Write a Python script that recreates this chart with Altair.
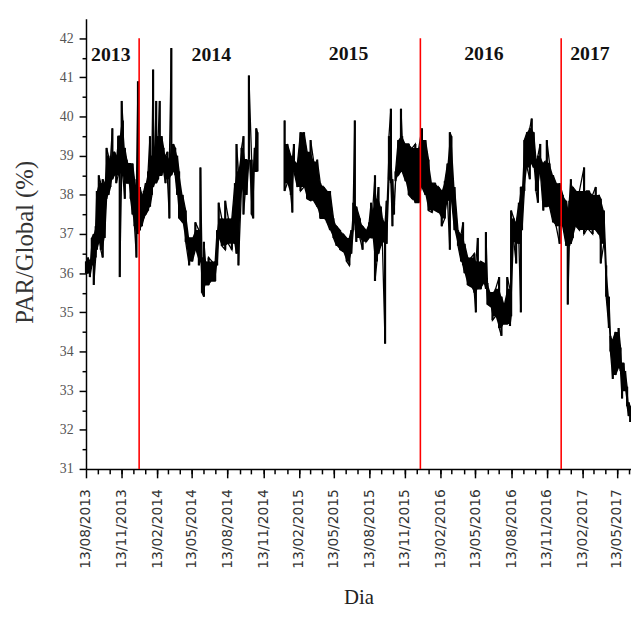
import altair as alt
import pandas as pd

start = "2013-08-13"
end = "2017-06-18"

# ---- 2013/2014 segment: day offset from start, daily max / min envelope
dia_a = [0, 5, 10, 15, 20, 25, 28, 33, 38, 43, 48, 53, 58, 63, 68, 73, 78, 83, 87, 92,
         95, 100, 105, 110, 115, 120, 125, 130, 134, 139, 144, 149, 154, 160, 165, 170, 173, 177, 181, 186,
         190, 195, 200, 205, 210, 215, 220, 225, 230, 235, 240, 249, 257, 266, 274, 282, 291, 295, 299, 304,
         308, 316, 325, 333, 338, 342, 350, 359, 367, 376, 384, 388, 393, 401, 406, 410, 414, 420, 427, 431,
         435, 439, 442]
max_a = [36.3, 36.4, 36.3, 36.9, 37.0, 37.2, 38.1, 38.5, 38.3, 38.4, 38.3, 39.2, 39.0, 38.9, 39.7, 39.1, 39.0, 39.5, 39.5, 40.4,
         39.9, 39.2, 38.9, 38.8, 38.8, 38.8, 38.4, 38.2, 40.9, 38.2, 38.0, 38.1, 38.3, 38.6, 39.5, 39.0, 41.2, 39.2, 40.4, 39.5,
         40.4, 39.5, 39.2, 39.0, 39.1, 38.9, 41.75, 39.3, 39.2, 39.0, 38.6, 38.0, 37.6, 36.9, 36.9, 37.3, 37.1, 38.7, 36.4, 36.8,
         36.3, 36.4, 36.3, 36.3, 37.1, 37.8, 37.4, 37.85, 37.4, 37.4, 38.3, 39.3, 38.6, 39.2, 39.5, 38.9, 38.9, 41.05, 38.9, 38.6,
         39.2, 39.7, 39.6]
min_a = [36.0, 36.0, 35.9, 36.2, 35.7, 36.4, 36.6, 36.8, 36.6, 36.4, 36.9, 37.9, 38.0, 38.2, 38.4, 38.5, 38.3, 38.5, 35.9, 38.6,
         38.5, 37.9, 38.3, 38.3, 37.9, 37.5, 37.2, 36.4, 37.0, 37.1, 37.2, 37.4, 37.5, 37.6, 37.7, 38.0, 38.2, 38.3, 38.3, 38.4,
         38.5, 38.5, 38.6, 38.3, 38.4, 37.4, 38.5, 38.6, 38.5, 38.0, 37.4, 37.3, 36.8, 36.2, 36.3, 36.6, 36.2, 36.3, 35.5, 35.4,
         35.7, 35.7, 35.8, 35.8, 36.2, 36.9, 36.7, 36.6, 36.75, 36.6, 36.75, 36.5, 36.2, 38.2, 37.5, 38.0, 38.0, 38.9, 37.5, 37.4,
         38.6, 38.6, 38.6]

# ---- 2015-2017 segment
dia_b = [512, 519, 528, 532, 536, 545, 553, 562, 570, 579, 587, 596, 604, 613, 621, 629, 638, 646, 655, 663,
         672, 679, 684, 689, 693, 697, 706, 713, 722, 730, 735, 739, 745, 750, 754, 760, 764, 771, 775, 781,
         786, 790, 794, 798, 805, 812, 815, 824, 832, 841, 849, 858, 866, 875, 883, 892, 900, 909, 917, 925,
         932, 938, 942, 950, 959, 967, 972, 976, 984, 993, 1001, 1005, 1010, 1018, 1027, 1031, 1035, 1043, 1048, 1056,
         1065, 1071, 1077, 1086, 1093, 1096, 1103, 1109, 1116, 1121, 1124, 1130, 1137, 1144, 1149, 1154, 1160, 1165, 1171, 1179,
         1183, 1188, 1195, 1204, 1212, 1221, 1229, 1238, 1242, 1246, 1250, 1255, 1263, 1272, 1284, 1290, 1297, 1306, 1314, 1322,
         1327, 1335, 1341, 1348, 1352, 1358, 1365, 1373, 1378, 1382, 1386, 1390, 1395, 1399, 1403]
max_b = [39.9, 39.3, 39.0, 38.9, 39.3, 38.8, 39.6, 39.6, 39.1, 39.4, 38.85, 38.9, 38.3, 38.2, 38.1, 38.1, 37.4, 37.2, 37.1, 37.0,
         36.9, 36.9, 37.1, 37.8, 39.9, 37.7, 37.4, 37.2, 37.1, 37.3, 37.8, 37.6, 38.5, 37.9, 38.2, 37.7, 37.4, 37.3, 37.85, 39.5,
         40.2, 38.4, 37.8, 38.6, 39.4, 40.2, 39.5, 39.3, 39.3, 39.2, 39.3, 39.2, 39.7, 39.4, 38.9, 38.3, 38.3, 38.2, 38.1, 38.35,
         38.8, 39.6, 39.5, 38.2, 37.1, 37.0, 37.3, 36.75, 36.4, 36.4, 36.5, 36.3, 36.9, 36.3, 36.25, 37.05, 35.75, 35.5, 35.5, 35.6,
         35.9, 35.4, 35.2, 35.9, 35.6, 37.6, 37.4, 37.3, 37.8, 38.2, 38.2, 39.4, 39.6, 39.7, 39.95, 39.6, 38.9, 39.0, 39.3, 38.8,
         38.85, 39.4, 38.8, 38.5, 38.3, 38.3, 38.0, 37.85, 37.6, 37.85, 38.4, 38.2, 38.1, 38.1, 38.7, 38.1, 38.1, 38.0, 38.2, 38.0,
         37.9, 37.6, 36.2, 35.4, 34.4, 34.3, 34.5, 34.6, 34.1, 33.7, 33.7, 33.5, 33.1, 32.7, 32.6]
min_b = [38.1, 38.3, 38.0, 37.55, 38.6, 38.2, 38.1, 38.2, 37.9, 37.85, 37.85, 37.7, 37.4, 37.4, 37.3, 37.1, 36.9, 36.7, 36.6, 36.55,
         36.3, 36.2, 36.5, 37.1, 37.3, 36.8, 36.9, 36.6, 36.8, 36.9, 36.9, 36.9, 35.8, 36.3, 36.5, 36.7, 36.8, 34.2, 36.75, 38.4,
         38.3, 37.2, 37.5, 38.35, 38.5, 38.6, 38.6, 38.35, 38.0, 37.9, 37.8, 37.8, 38.2, 38.0, 37.6, 37.55, 37.6, 37.55, 37.2, 37.4,
         37.85, 36.6, 37.9, 37.1, 36.7, 36.3, 36.2, 36.0, 35.7, 35.65, 35.5, 35.0, 35.6, 35.6, 35.75, 35.6, 35.2, 35.15, 34.8, 34.9,
         34.6, 34.4, 34.7, 34.7, 34.65, 34.9, 36.8, 36.25, 36.75, 35.0, 37.1, 38.1, 38.7, 38.4, 38.8, 38.7, 38.1, 37.8, 38.6, 37.6,
         37.7, 37.7, 37.7, 37.3, 37.2, 36.75, 37.2, 36.7, 35.2, 36.7, 36.75, 36.9, 37.2, 37.1, 37.0, 37.1, 37.1, 37.0, 37.1, 37.0,
         36.25, 36.75, 35.4, 34.6, 34.0, 33.3, 33.4, 33.6, 33.5, 32.8, 33.0, 33.0, 32.6, 32.35, 32.2]

quarter_ticks = ["2013-08-13", "2013-11-13", "2014-02-13", "2014-05-13", "2014-08-13", "2014-11-13",
                 "2015-02-13", "2015-05-13", "2015-08-13", "2015-11-13", "2016-02-13", "2016-05-13",
                 "2016-08-13", "2016-11-13", "2017-02-13", "2017-05-13"]
y_ticks = [31, 32, 33, 34, 35, 36, 37, 38, 39, 40, 41, 42]
y_minor = [31.5, 32.5, 33.5, 34.5, 35.5, 36.5, 37.5, 38.5, 39.5, 40.5, 41.5]

red_line_dates = ["2013-12-28", "2015-12-23", "2016-12-20"]
red_line_from = [31, 31, 31]
red_line_to = [42, 42, 42]

year_labels = ["2013", "2014", "2015", "2016", "2017"]
year_label_dates = ["2013-10-16", "2014-07-02", "2015-06-21", "2016-06-04", "2017-03-04"]
year_label_y = [41.42, 41.42, 41.45, 41.45, 41.45]


def ms(s):
    return int(pd.Timestamp(s, tz="UTC").value // 10**6)


DAY = 86400000
t0 = ms(start)

rows = []
bands = []
for seg, (dias, his, los) in enumerate([(dia_a, max_a, min_a), (dia_b, max_b, min_b)]):
    k = 0
    n = len(dias)
    for i, (d, h, l) in enumerate(zip(dias, his, los)):
        # solid core of the band: isolated one-day spikes are left to the thin strokes
        nh = [his[j] for j in (i - 1, i + 1) if 0 <= j < n]
        nl = [los[j] for j in (i - 1, i + 1) if 0 <= j < n]
        core_hi = min(h, max(nh))
        core_lo = max(l, min(nl))
        bands.append({"t": t0 + d * DAY, "lo": l, "hi": h, "clo": min(core_lo, core_hi),
                      "chi": core_hi, "seg": seg})
        pair = (h, l) if i % 2 == 0 else (l, h)
        for v in pair:
            rows.append({"t": t0 + d * DAY, "v": v, "seg": seg, "o": k})
            k += 1
line_df = pd.DataFrame(rows)
band_df = pd.DataFrame(bands)

red_df = pd.DataFrame({"t": [ms(d) for d in red_line_dates], "v": red_line_from, "v2": red_line_to})
year_df = pd.DataFrame({"t": [ms(d) for d in year_label_dates], "v": year_label_y, "label": year_labels})

minor_x = [ms(d.strftime("%Y-%m-%d")) for d in pd.date_range("2013-08-13", "2017-06-13", freq="MS") + pd.Timedelta(days=12)]

W, H = 552, 456
xscale = alt.Scale(type="utc", domain=[ms(start), ms(end)])
yscale = alt.Scale(domain=[31, 42.5], nice=False, zero=False)

main_x_axis = alt.Axis(
    values=[ms(d) for d in quarter_ticks],
    labelExpr="utcFormat(datum.value, '%d/%m/%Y')",
    labelAngle=270, labelFont="DejaVu Sans", labelFontSize=14, labelColor="#333",
    labelPadding=11, labelOverlap=False, labelFlush=False, labelBound=False,
    tickSize=9, tickWidth=1.5, tickColor="black",
    domainColor="black", domainWidth=1.5, grid=False,
    title="Dia", titleFont="Liberation Serif", titleFontSize=21, titleFontWeight="normal",
    titleColor="#222", titleX=W / 2, titleY=136, titleBaseline="alphabetic", titleAlign="center",
    orient="bottom",
)
main_y_axis = alt.Axis(
    values=y_ticks, labelFont="Liberation Serif", labelFontSize=14, labelColor="#555",
    labelPadding=6, tickSize=7, tickWidth=1.5, tickColor="black",
    domainColor="black", domainWidth=1.5, grid=False,
    title="PAR/Global (%)", titleFont="Liberation Serif", titleFontSize=25, titleFontWeight="normal",
    titleColor="#333", titleX=-62, titleY=226, titleAngle=270, titleBaseline="middle", titleAlign="center",
    orient="left",
)
minor_x_axis = alt.Axis(values=minor_x, labels=False, tickSize=5, tickWidth=1.5, tickColor="black",
                        domain=False, grid=False, title=None, orient="bottom")
minor_y_axis = alt.Axis(values=y_minor, labels=False, tickSize=4, tickWidth=1.5, tickColor="black",
                        domain=False, grid=False, title=None, orient="left")

core = alt.Chart(band_df).mark_area(color="black", opacity=1).encode(
    x=alt.X("t:T", scale=xscale, axis=None),
    y=alt.Y("clo:Q", scale=yscale, axis=None),
    y2="chi:Q",
    detail="seg:N",
)

band = alt.Chart(band_df).mark_rule(color="black", strokeWidth=2.2).encode(
    x=alt.X("t:T", scale=xscale, axis=None),
    y=alt.Y("lo:Q", scale=yscale, axis=None),
    y2="hi:Q",
)

line = alt.Chart(line_df).mark_line(color="black", strokeWidth=1.3, strokeJoin="miter").encode(
    x=alt.X("t:T", scale=xscale, axis=main_x_axis),
    y=alt.Y("v:Q", scale=yscale, axis=main_y_axis),
    detail="seg:N",
    order="o:Q",
)

red = alt.Chart(red_df).mark_rule(color="#ff0000", strokeWidth=1.6).encode(
    x=alt.X("t:T", scale=xscale, axis=minor_x_axis),
    y=alt.Y("v:Q", scale=yscale, axis=minor_y_axis),
    y2="v2:Q",
)

years = alt.Chart(year_df).mark_text(
    font="Liberation Serif", fontSize=20, fontWeight="bold", color="#111",
    baseline="alphabetic", align="center",
).encode(
    x=alt.X("t:T", scale=xscale, axis=None),
    y=alt.Y("v:Q", scale=yscale, axis=None),
    text="label:N",
)

chart = alt.layer(line, core, band, red, years).resolve_axis(x="independent", y="independent").properties(
    width=W, height=H,
    autosize=alt.AutoSizeParams(type="none"),
    padding={"left": 79, "top": 7, "right": 0, "bottom": 137},
).configure_view(stroke=None)

chart.save("out.html", embed_options={"renderer": "svg", "actions": False})
